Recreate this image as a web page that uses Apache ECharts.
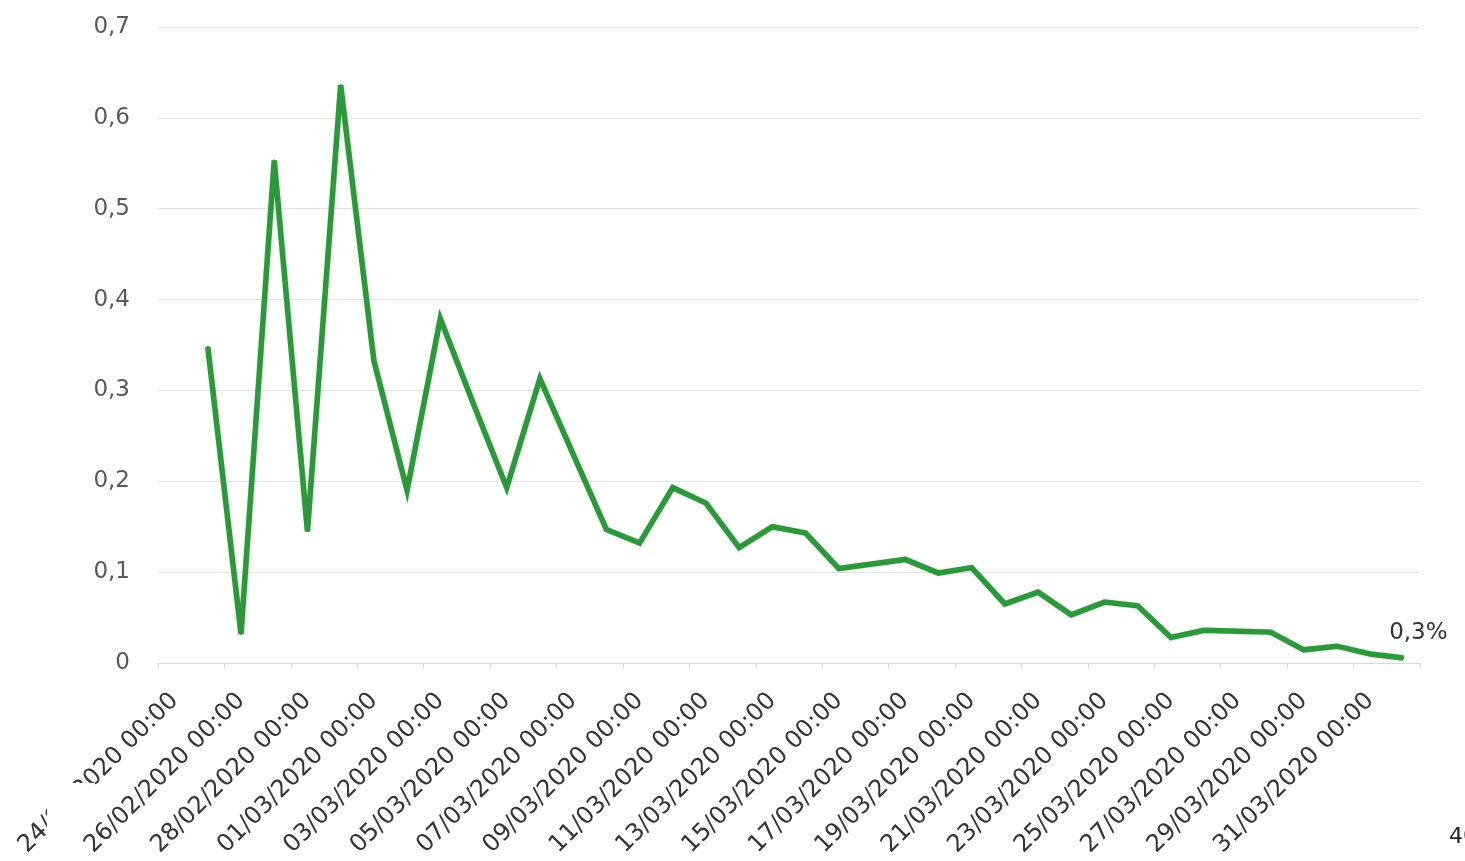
<!DOCTYPE html>
<html>
<head>
<meta charset="utf-8">
<script src="https://cdn.jsdelivr.net/npm/echarts@6/dist/echarts.min.js"></script>
<style>
html,body{margin:0;padding:0;background:#fff;}
#c{width:1465px;height:861px;}
</style>
</head>
<body>
<div id="c"></div>
<script>
const categories = [
  "24/02/2020 00:00","25/02/2020 00:00","26/02/2020 00:00","27/02/2020 00:00","28/02/2020 00:00","29/02/2020 00:00",
  "01/03/2020 00:00","02/03/2020 00:00","03/03/2020 00:00","04/03/2020 00:00","05/03/2020 00:00","06/03/2020 00:00",
  "07/03/2020 00:00","08/03/2020 00:00","09/03/2020 00:00","10/03/2020 00:00","11/03/2020 00:00","12/03/2020 00:00",
  "13/03/2020 00:00","14/03/2020 00:00","15/03/2020 00:00","16/03/2020 00:00","17/03/2020 00:00","18/03/2020 00:00",
  "19/03/2020 00:00","20/03/2020 00:00","21/03/2020 00:00","22/03/2020 00:00","23/03/2020 00:00","24/03/2020 00:00",
  "25/03/2020 00:00","26/03/2020 00:00","27/03/2020 00:00","28/03/2020 00:00","29/03/2020 00:00","30/03/2020 00:00",
  "31/03/2020 00:00","01/04/2020 00:00"
];
const values = [
  null,
  0.348, 0.032, 0.553, 0.145, 0.636, 0.333, 0.19, 0.379, 0.285, 0.193,
  0.313, 0.23, 0.147, 0.132, 0.193, 0.176, 0.127, 0.15, 0.143, 0.104,
  0.109, 0.114, 0.099, 0.105, 0.065, 0.078, 0.053, 0.067, 0.063, 0.028,
  0.036, 0.035, 0.034, 0.0145, 0.0185, 0.010, 0.0055
];
const yTicks = { min: 0, max: 0.7, interval: 0.1 };
const endLabel = "0,3%";
const strayText = "40";

const lastIdx = values.length - 1;
const seriesData = values.map((v, i) => i === lastIdx ? {
  value: v,
  label: { show: true, formatter: endLabel, position: 'top', offset: [15, -7],
           fontFamily: 'DejaVu Sans', fontSize: 23, color: '#333' }
} : v);

const chart = echarts.init(document.getElementById('c'), null, { renderer: 'canvas' });
chart.setOption({
  animation: false,
  backgroundColor: '#fff',
  grid: { left: 158, right: 45, top: 27, bottom: 198, containLabel: false },
  xAxis: {
    type: 'category',
    data: categories,
    boundaryGap: true,
    axisLine: { show: true, lineStyle: { color: '#d9d9d9', width: 1 } },
    axisTick: { show: true, interval: 1, length: 5, lineStyle: { color: '#d9d9d9' } },
    axisLabel: {
      interval: 1, rotate: 45, margin: 34,
      fontFamily: 'DejaVu Sans', fontSize: 24, color: '#333'
    },
    splitLine: { show: false }
  },
  yAxis: {
    type: 'value',
    min: yTicks.min, max: yTicks.max, interval: yTicks.interval,
    axisLine: { show: false },
    axisTick: { show: false },
    axisLabel: {
      margin: 28, fontFamily: 'DejaVu Sans', fontSize: 23, color: '#595959',
      formatter: v => String(+v.toFixed(1)).replace('.', ',')
    },
    splitLine: { show: true, lineStyle: { color: '#e3e3e3', width: 1 } }
  },
  series: [{
    type: 'line',
    data: seriesData,
    showSymbol: true,
    symbol: 'circle',
    symbolSize: 2,
    connectNulls: false,
    lineStyle: { color: '#2e963d', width: 5.5, join: 'miter', miterLimit: 6,
                 shadowColor: 'rgba(80,200,80,0.5)', shadowBlur: 2 },
    itemStyle: { color: '#2e963d' },
    label: { show: false }
  }],
  graphic: [
    {
      type: 'polygon', z: 100,
      shape: { points: [[47, 783], [95, 783], [95, 797], [58, 861], [47, 861]] },
      style: { fill: '#fff' }
    },
    {
      type: 'text', left: 1449, top: 826,
      style: { text: strayText, fontFamily: 'DejaVu Sans', fontSize: 22, fill: '#222' }
    }
  ]
});
</script>
</body>
</html>
